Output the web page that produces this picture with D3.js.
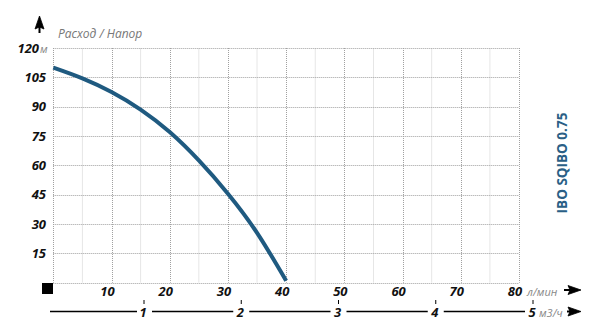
<!DOCTYPE html>
<html>
<head>
<meta charset="utf-8">
<script src="https://cdn.jsdelivr.net/npm/d3@7"></script>
<style>
  body { margin: 0; background: #fff; }
  svg { display: block; font-family: "Open Sans", sans-serif; }
</style>
</head>
<body>
<div id="chart"></div>
<script>
const width = 600;
const height = 328;

// pump curve
const flow = [0, 5, 10, 15, 20, 25, 30, 35, 40];            // л/мин
const head = [110, 104.5, 97.5, 88.5, 77, 62.5, 45.5, 25.5, 1]; // м
const flowTicks = [10, 20, 30, 40, 50, 60, 70, 80];
const headTicks = [15, 30, 45, 60, 75, 90, 105, 120];
const minorFlow = [5, 15, 25, 35, 45, 55, 65, 75];
const cubicTicks = [1, 2, 3, 4, 5];                         // м3/ч

const title = "IBO SQIBO 0.75";
const axisTitle = "Расход / Напор";

const x = d3.scaleLinear().domain([0, 80]).range([53.3, 519]);
const y = d3.scaleLinear().domain([0, 120]).range([282.7, 48]);
const xCubic = d3.scaleLinear().domain([1, 5]).range([144, 533]);

const svg = d3.select("#chart").append("svg")
  .attr("width", width)
  .attr("height", height);

// arrow: stem + filled head pointing right, rotated as needed
function arrow(cx, cy, angle, len) {
  const g = svg.append("g")
    .attr("transform", `translate(${cx},${cy}) rotate(${angle})`);
  g.append("line")
    .attr("x1", -len).attr("x2", -8)
    .attr("y1", 0).attr("y2", 0)
    .attr("stroke", "#000").attr("stroke-width", 2);
  g.append("path")
    .attr("d", "M1,0 L-12,-4.5 L-10,0 L-12,4.5 Z")
    .attr("fill", "#000")
    .attr("stroke", "#000")
    .attr("stroke-width", 0.8)
    .attr("stroke-linejoin", "round");
}

// minor grid (light solid, vertical only)
svg.append("g")
  .selectAll("line")
  .data(minorFlow)
  .join("line")
  .attr("x1", d => x(d)).attr("x2", d => x(d))
  .attr("y1", y(120)).attr("y2", y(0))
  .attr("stroke", "#e6e6e6")
  .attr("stroke-width", 1);

// major grid (dotted)
const grid = svg.append("g")
  .attr("stroke", "#a0a0a0")
  .attr("stroke-width", 1)
  .attr("stroke-dasharray", "1,1");

grid.selectAll(".v")
  .data([0].concat(flowTicks))
  .join("line")
  .attr("class", "v")
  .attr("x1", d => Math.round(x(d)) + 0.5).attr("x2", d => Math.round(x(d)) + 0.5)
  .attr("y1", y(120)).attr("y2", y(0));

grid.selectAll(".h")
  .data([0].concat(headTicks))
  .join("line")
  .attr("class", "h")
  .attr("x1", x(0)).attr("x2", x(80))
  .attr("y1", d => Math.round(y(d)) + 0.5).attr("y2", d => Math.round(y(d)) + 0.5);

// curve
const pts = flow.map((f, i) => [f, head[i]]);
svg.append("path")
  .datum(pts)
  .attr("fill", "none")
  .attr("stroke", "#1f5a80")
  .attr("stroke-width", 4)
  .attr("d", d3.line()
    .x(d => x(d[0]))
    .y(d => y(d[1]))
    .curve(d3.curveNatural));

// y tick labels
svg.append("g")
  .selectAll("text")
  .data(headTicks)
  .join("text")
  .attr("x", d => d === 120 ? 39 : 46)
  .attr("y", d => y(d) + 4.5)
  .attr("text-anchor", "end")
  .attr("font-size", 13)
  .attr("font-weight", 700)
  .attr("font-style", "italic")
  .attr("fill", "#111")
  .text(d => d);

svg.append("text")
  .attr("x", 40).attr("y", y(120) + 4.5)
  .attr("font-size", 11)
  .attr("font-style", "italic")
  .attr("fill", "#888")
  .text("м");

// x tick labels (л/мин)
svg.append("g")
  .selectAll("text")
  .data(flowTicks)
  .join("text")
  .attr("x", d => x(d) - 4)
  .attr("y", 296)
  .attr("text-anchor", "middle")
  .attr("font-size", 13)
  .attr("font-weight", 700)
  .attr("font-style", "italic")
  .attr("fill", "#111")
  .text(d => d);

svg.append("text")
  .attr("x", 527).attr("y", 296)
  .attr("font-size", 11)
  .attr("font-style", "italic")
  .attr("fill", "#888")
  .text("л/мин");

arrow(580, 290, 0, 16);

// black square at origin
svg.append("rect")
  .attr("x", 42).attr("y", 283)
  .attr("width", 11).attr("height", 11)
  .attr("fill", "#000");

// second axis (м3/ч)
const lineY = 311.5;
const segs = [[50, xCubic(1) - 7]];
cubicTicks.forEach((d, i) => {
  if (i < cubicTicks.length - 1) segs.push([xCubic(d) + 8, xCubic(cubicTicks[i + 1]) - 8]);
});
svg.append("g")
  .selectAll("line")
  .data(segs)
  .join("line")
  .attr("x1", d => d[0]).attr("x2", d => d[1])
  .attr("y1", lineY).attr("y2", lineY)
  .attr("stroke", "#000").attr("stroke-width", 1.5);

svg.append("g")
  .selectAll("line")
  .data(cubicTicks)
  .join("line")
  .attr("x1", d => xCubic(d)).attr("x2", d => xCubic(d))
  .attr("y1", 300).attr("y2", 304)
  .attr("stroke", "#000").attr("stroke-width", 1);

svg.append("g")
  .selectAll("text")
  .data(cubicTicks)
  .join("text")
  .attr("x", d => xCubic(d) - 1)
  .attr("y", 317)
  .attr("text-anchor", "middle")
  .attr("font-size", 13)
  .attr("font-weight", 700)
  .attr("font-style", "italic")
  .attr("fill", "#111")
  .text(d => d);

svg.append("text")
  .attr("x", 539).attr("y", 317)
  .attr("font-size", 11)
  .attr("font-style", "italic")
  .attr("fill", "#888")
  .text("м3/ч");

arrow(580, lineY, 0, 13);

// up arrow + axis title
arrow(39.5, 17, -90, 16);

svg.append("text")
  .attr("x", 58).attr("y", 38)
  .attr("font-size", 12)
  .attr("font-style", "italic")
  .attr("fill", "#777")
  .text(axisTitle);

// model name, vertical
svg.append("text")
  .attr("transform", "translate(567,163) rotate(-90)")
  .attr("text-anchor", "middle")
  .attr("font-size", 13.5)
  .attr("font-weight", 700)
  .attr("fill", "#2a5f86")
  .text(title);
</script>
</body>
</html>
